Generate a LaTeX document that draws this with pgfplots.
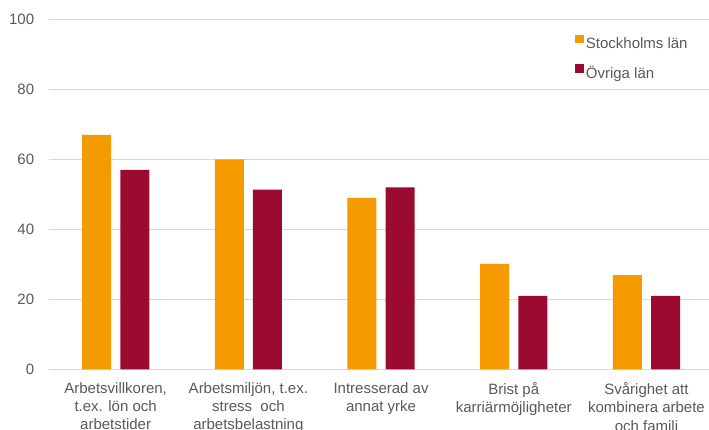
\documentclass[border=0pt]{standalone}
\usepackage{fontspec}
\setmainfont{Liberation Sans}
\usepackage{pgfplots}
\pgfplotsset{compat=1.18}

\definecolor{sthlm}{HTML}{F59B00}
\definecolor{ovriga}{HTML}{9B0A2F}
\definecolor{txtgray}{HTML}{595959}
\definecolor{gridgray}{HTML}{D9D9D9}

\begin{document}
\begin{tikzpicture}
\useasboundingbox (0,0) rectangle (709bp,430bp);
\begin{axis}[
  at={(49.3bp,60.7bp)}, anchor=south west,
  scale only axis,
  width=663.5bp, height=350bp,
  ybar, bar width=29bp,
  xmin=-0.5, xmax=4.5,
  ymin=0, ymax=100,
  ytick={0,20,...,100},
  xtick=data,
  xticklabels={{Arbetsvillkoren,\\t.ex. lön och\\arbetstider},
               {Arbetsmiljön, t.ex.\\stress\ \ och\\arbetsbelastning},
               {Intresserad av\\annat yrke},
               {Brist på\\karriärmöjligheter},
               {Svårighet att\\kombinera arbete\\och familj}},
  axis line style={draw=none},
  major tick length=0pt,
  ymajorgrids,
  grid style={gridgray, line width=1bp},
  /pgf/number format/assume math mode=true,
  yticklabel style={font=\fontsize{15bp}{17bp}\selectfont, text=txtgray, inner sep=0pt, anchor=east, xshift=-15bp},
  xticklabel style={font=\fontsize{15bp}{18.3bp}\selectfont, text=txtgray, inner sep=0pt, align=center, anchor=north, yshift=-13bp},
  legend image code/.code={\fill[#1] (0bp,1.3bp) rectangle (8.5bp,9.8bp);},
  legend style={draw=none, fill=none, inner sep=0pt,
    at={(0.792,0.957)}, anchor=north west,
    row sep=13bp,
    nodes={inner sep=0pt, text height=11bp, text depth=3bp, text=txtgray, font=\fontsize{15bp}{17bp}\selectfont},
    /tikz/every odd column/.append style={column sep=2.4bp}},
  legend cell align=left,
]
\addplot[fill=sthlm, draw=none, bar shift=-19.1bp] coordinates {(0,67) (1,60) (2,49) (3,30.1) (4,26.9)};
\addplot[fill=ovriga, draw=none, bar shift=19.1bp] coordinates {(0,57) (1,51.3) (2,52) (3,21) (4,21)};
\legend{Stockholms län, Övriga län}
\end{axis}
\end{tikzpicture}
\end{document}
